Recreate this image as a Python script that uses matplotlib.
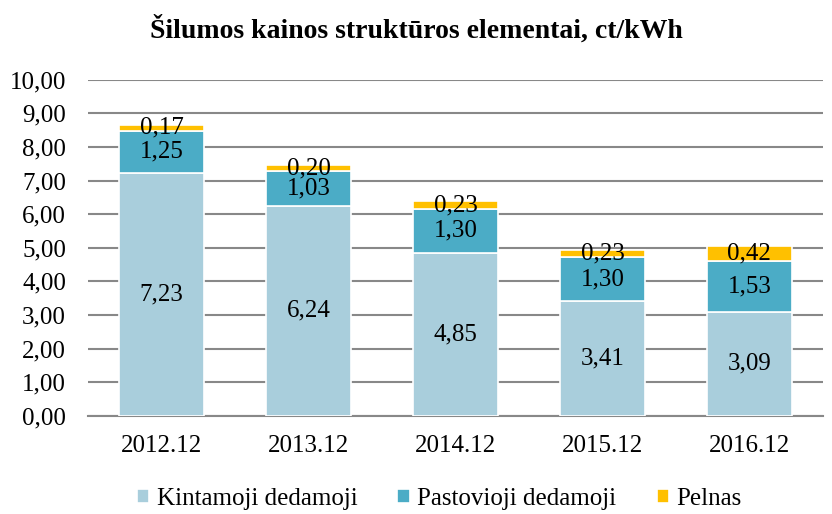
import numpy as np
import matplotlib.pyplot as plt

years = ['2012.12', '2013.12', '2014.12', '2015.12', '2016.12']
kintamoji = [7.23, 6.24, 4.85, 3.41, 3.09]
pastovioji = [1.25, 1.03, 1.30, 1.30, 1.53]
pelnas = [0.17, 0.20, 0.23, 0.23, 0.42]

series = [
    ('Kintamoji dedamoji', kintamoji, '#A9CEDC'),
    ('Pastovioji dedamoji', pastovioji, '#4BACC6'),
    ('Pelnas', pelnas, '#FFC000'),
]

plt.rcParams['font.family'] = ['Liberation Serif', 'DejaVu Serif']

fig = plt.figure(figsize=(8.32, 5.14), dpi=100)
ax = fig.add_axes([0.106, 0.191, 0.883, 0.654])

x = np.arange(len(years))
bottom = np.zeros(len(years))
for name, vals, col in series:
    vals = np.array(vals)
    ax.bar(x, vals, 0.58, bottom=bottom, color=col, edgecolor='white',
           linewidth=1.2, label=name, zorder=3)
    for xi, b, v in zip(x, bottom, vals):
        ax.text(xi, b + v / 2, f'{v:.2f}'.replace('.', ','), ha='center',
                va='center', fontsize=18, zorder=4)
    bottom += vals

ax.set_xlim(-0.5, len(years) - 0.5)
ax.set_ylim(0, 10)
ax.set_yticks(np.arange(0, 11, 1))
ax.set_yticklabels([f'{v:.2f}'.replace('.', ',') for v in range(11)])
ax.set_xticks(x)
ax.set_xticklabels(years)
ax.tick_params(axis='both', labelsize=18, length=0)
ax.tick_params(axis='x', pad=14)
ax.tick_params(axis='y', pad=16)
ax.grid(axis='y', color='#888888', linewidth=1.5, zorder=0)
for s in ['top', 'right', 'left']:
    ax.spines[s].set_visible(False)
ax.spines['bottom'].set_color('#888888')
ax.spines['bottom'].set_linewidth(1.5)

fig.suptitle('Šilumos kainos struktūros elementai, ct/kWh', y=0.97,
             fontsize=20, fontweight='bold')

fig.legend(loc='lower center', bbox_to_anchor=(0.528, -0.036), ncol=3,
           frameon=False, fontsize=18, handlelength=0.5, handleheight=0.5,
           handletextpad=0.3, columnspacing=1.6)

fig.savefig('out.png', dpi=100)
